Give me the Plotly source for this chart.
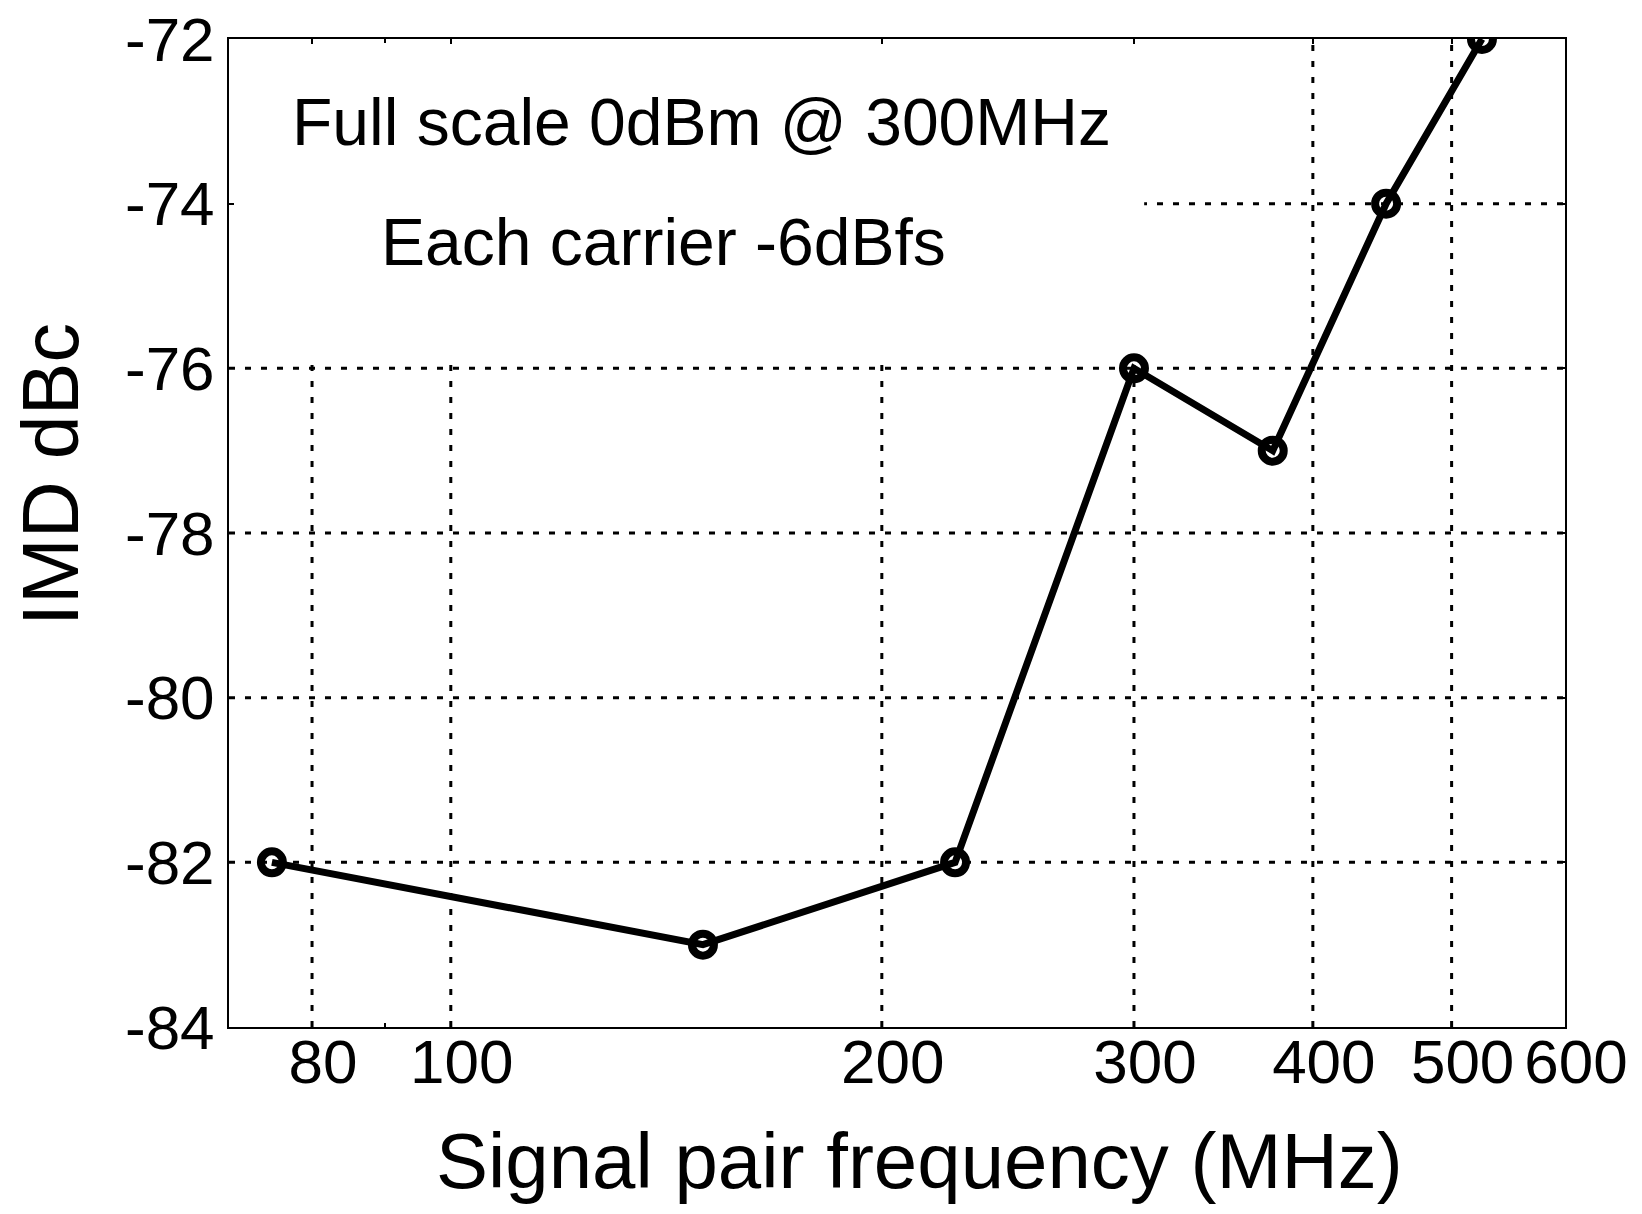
import plotly.graph_objects as go
import math

freq_mhz = [75, 150, 225, 300, 375, 450, 525]
imd_dbc = [-82, -83, -82, -76, -77, -74, -72]

x_tick_vals = [80, 100, 200, 300, 400, 500, 600]
x_tick_text = ["80", "100", "200", "300", "400", "500", "600"]
y_tick_vals = [-84, -82, -80, -78, -76, -74, -72]
y_tick_text = ["-84", "-82", "-80", "-78", "-76", "-74", "-72"]

X_RANGE = (70, 600)
Y_RANGE = (-84, -72)

FONT = "Liberation Sans, Arial, sans-serif"
GRID_LINE = dict(color="black", width=3, dash="6px,10px")

fig = go.Figure()
fig.add_trace(go.Scatter(
    x=freq_mhz, y=imd_dbc, mode="lines+markers",
    line=dict(color="black", width=7),
    marker=dict(symbol="circle-open", size=22, color="black", line=dict(width=8, color="black")),
    showlegend=False,
))

shapes = []
# dotted grid drawn as shapes so a white text panel can sit over it (edges skipped: frame is solid)
for v in x_tick_vals:
    if X_RANGE[0] < v < X_RANGE[1]:
        shapes.append(dict(type="line", xref="x", yref="y domain", x0=v, x1=v, y0=0, y1=1,
                           line=GRID_LINE, layer="below"))
for v in y_tick_vals:
    if Y_RANGE[0] < v < Y_RANGE[1]:
        shapes.append(dict(type="line", xref="x domain", yref="y", x0=0, x1=1, y0=v, y1=v,
                           line=GRID_LINE, layer="below"))
# white panel behind the text notes
shapes.append(dict(type="rect", xref="x domain", yref="y domain",
                   x0=0.0, x1=0.685, y0=0.680, y1=1.0,
                   fillcolor="white", line=dict(width=0), layer="below"))

fig.update_layout(
    width=1642, height=1214,
    margin=dict(l=229, r=77, t=39, b=187, autoexpand=False),
    paper_bgcolor="white", plot_bgcolor="white",
    font=dict(family=FONT, color="black"),
    xaxis=dict(
        type="log", range=[math.log10(X_RANGE[0]), math.log10(X_RANGE[1])],
        tickvals=x_tick_vals, ticktext=x_tick_text,
        tickfont=dict(size=62, family=FONT, color="black"),
        ticks="inside", ticklen=5, tickwidth=2, tickcolor="black",
        ticklabelstandoff=-20, ticklabelshift=11,
        showline=True, linecolor="black", linewidth=2, mirror="ticks",
        minor=dict(tickvals=[90], ticks="inside", ticklen=4, tickcolor="black", showgrid=False),
        showgrid=False, zeroline=False, automargin=False,
    ),
    yaxis=dict(
        range=list(Y_RANGE),
        tickvals=y_tick_vals, ticktext=y_tick_text,
        tickfont=dict(size=62, family=FONT, color="black"),
        ticks="inside", ticklen=5, tickwidth=2, tickcolor="black",
        showline=True, linecolor="black", linewidth=2, mirror="ticks",
        showgrid=False, zeroline=False, automargin=False,
    ),
    shapes=shapes,
    annotations=[
        dict(text="Full scale 0dBm @ 300MHz", xref="paper", yref="paper",
             x=0.354, y=0.9155, xanchor="center", yanchor="middle", showarrow=False,
             font=dict(size=66, family=FONT, color="black")),
        dict(text="Each carrier -6dBfs", xref="paper", yref="paper",
             x=0.3249, y=0.7947, xanchor="center", yanchor="middle", showarrow=False,
             font=dict(size=66, family=FONT, color="black")),
        dict(text="Signal pair frequency (MHz)", xref="paper", yref="paper",
             x=0.5165, y=-0.136, xanchor="center", yanchor="middle", showarrow=False,
             font=dict(size=78, family=FONT, color="black")),
        dict(text="IMD dBc", xref="paper", yref="paper", textangle=-90,
             x=-0.134, y=0.5597, xanchor="center", yanchor="middle", showarrow=False,
             font=dict(size=79, family=FONT, color="black")),
    ],
)

fig.write_html("out.html")
